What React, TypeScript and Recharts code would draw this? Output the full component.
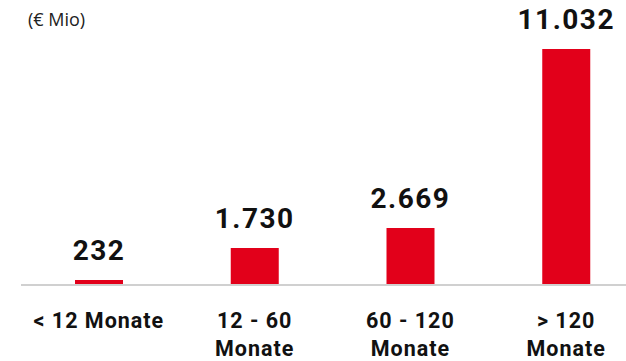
import { BarChart, Bar, XAxis, YAxis, LabelList } from "recharts";

// Laufzeitbänder und Volumen (€ Mio)
const categories = ["< 12 Monate", "12 - 60 Monate", "60 - 120 Monate", "> 120 Monate"];
const tickLines = [["< 12 Monate"], ["12 - 60", "Monate"], ["60 - 120", "Monate"], ["> 120", "Monate"]];
const volumes = [232, 1730, 2669, 11032];
const valueLabels = ["232", "1.730", "2.669", "11.032"];

const RED = "#e2001a";
const FONT = "Roboto, 'Open Sans', sans-serif";

const data = categories.map((c, i) => ({ name: c, value: volumes[i], label: valueLabels[i] }));

const CategoryTick = (props: any) => {
  const { x, y, index } = props;
  const lines = tickLines[index] || [];
  return (
    <g>
      {lines.map((line, i) => (
        <text
          key={i}
          x={x}
          y={y + 35 + i * 28}
          textAnchor='middle'
          fontFamily={FONT}
          fontWeight={700}
          fontSize={21.5}
          letterSpacing={1}
          fill='#111'
        >
          {line}
        </text>
      ))}
    </g>
  );
};

const ValueLabel = (props: any) => {
  const { x, y, width, index } = props;
  return (
    <text
      x={x + width / 2}
      y={y - 20}
      textAnchor='middle'
      fontFamily={FONT}
      fontWeight={700}
      fontSize={28}
      letterSpacing={1.5}
      fill='#111'
    >
      {valueLabels[index]}
    </text>
  );
};

export default function App() {
  return (
    <div style={{ position: "absolute", left: 0, top: 0, width: 626, height: 361, overflow: "hidden", background: "#fff" }}>
      <div
        style={{
          position: "absolute",
          left: 28,
          top: 9,
          fontFamily: "'Open Sans', sans-serif",
          fontSize: 18,
          color: "#222",
          lineHeight: "20px",
        }}
      >
        (€ Mio)
      </div>
      <BarChart width={644} height={361} data={data} margin={{ top: 49, right: 0, left: 21, bottom: 16 }}>
        <XAxis
          dataKey='name'
          height={60}
          axisLine={{ stroke: "#d0d0d0", strokeWidth: 2 }}
          tickLine={false}
          interval={0}
          tick={<CategoryTick />}
        />
        <YAxis hide domain={[0, 11032]} />
        <Bar dataKey='value' fill={RED} barSize={48} isAnimationActive={false}>
          <LabelList dataKey='label' content={<ValueLabel />} />
        </Bar>
      </BarChart>
    </div>
  );
}
